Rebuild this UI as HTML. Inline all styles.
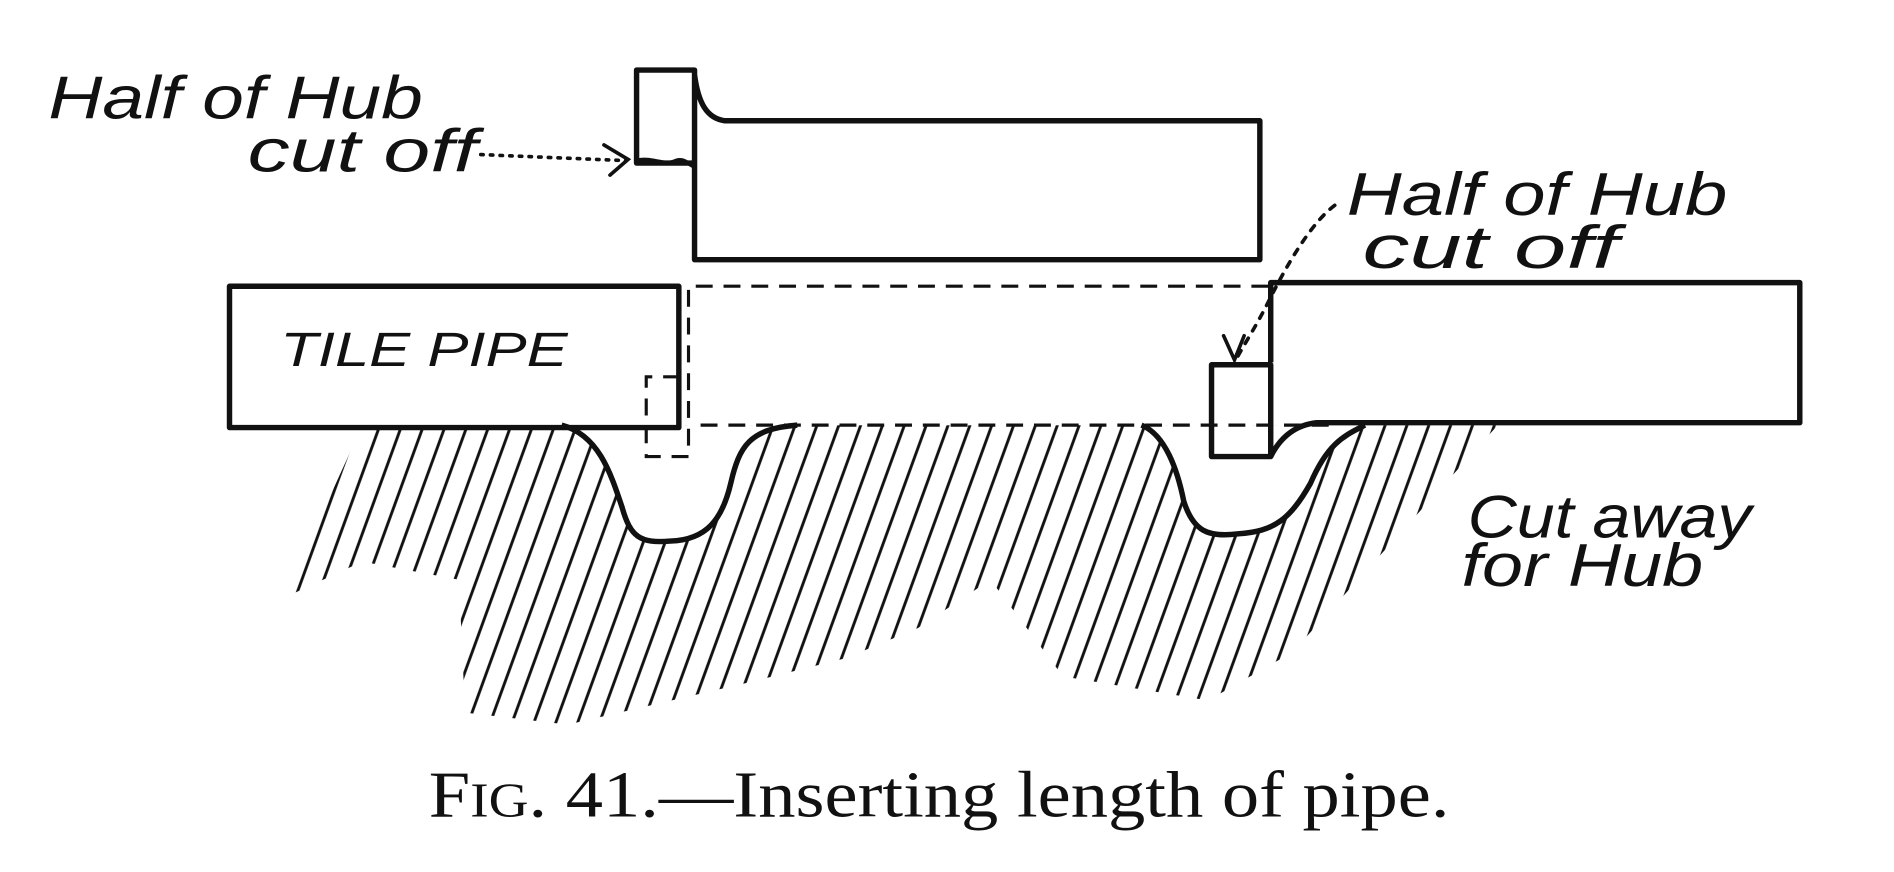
<!DOCTYPE html>
<html><head><meta charset="utf-8"><style>
html,body{margin:0;padding:0;background:#fff;}
svg{display:block;}
.h{font-family:"Liberation Sans",sans-serif;font-style:italic;font-size:50px;fill:#111;}
</style></head><body>
<svg width="1894" height="872" viewBox="0 0 1568 722" preserveAspectRatio="none" xmlns="http://www.w3.org/2000/svg">
<defs>
<pattern id="hat" width="17" height="17" patternUnits="userSpaceOnUse" patternTransform="rotate(20)">
<line x1="8" y1="0" x2="8" y2="17" stroke="#111" stroke-width="2.4"/>
</pattern>
<clipPath id="gc"><polygon points="300,352 1240,352 1070,540 1000,580 880,560 820,480 760,520 700,545 620,565 470,600 385,590 380,480 300,465 235,495"/></clipPath>
</defs>
<rect width="1568" height="722" fill="#fff"/>
<rect x="200" y="352" width="1100" height="260" fill="url(#hat)" clip-path="url(#gc)"/>
<path d="M465,352 C495,360 505,390 515,420 C522,445 530,450 555,448 C585,447 598,430 605,400 C612,370 620,355 660,352 Z" fill="#fff"/>
<path d="M945,352 C965,360 975,390 980,415 C988,440 1000,445 1025,442 C1055,440 1068,430 1085,400 C1100,365 1115,360 1130,352 Z" fill="#fff"/>
<g fill="none" stroke="#111" stroke-width="4.5" stroke-linejoin="round">
<path d="M465,352 C495,360 505,390 515,420 C522,445 530,450 555,448 C585,447 598,430 605,400 C612,370 620,355 660,352"/>
<path d="M945,352 C965,360 975,390 980,415 C988,440 1000,445 1025,442 C1055,440 1068,430 1085,400 C1100,365 1115,360 1130,352"/>
<path d="M575,135 L527,135 L527,58 L575,58 L575,215 L1043,215 L1043,100 L600,100 C585,98 578,85 575,62"/>
<path d="M527,133 C540,130 550,138 560,133 C566,131 570,136 575,138" stroke-width="3.5"/>
<rect x="190" y="237" width="372" height="117"/>
<path d="M1052,300 L1052,234 L1490,234 L1490,350 L1090,350 C1072,352 1060,362 1052,378"/>
<rect x="1003" y="302" width="49" height="76"/>
</g>
<g fill="none" stroke="#111" stroke-width="2.6" stroke-dasharray="14,9">
<path d="M1050,237 L570,237 L570,378 L535,378 L535,312 L560,312"/>
<path d="M580,352 L1100,352"/>
</g>
<g fill="none" stroke="#111" stroke-width="3" stroke-linecap="round">
<path d="M398,128 L518,133" stroke-dasharray="2,6"/>
<path d="M500,120 L520,132 L505,145"/>
<path d="M1105,170 C1085,185 1065,220 1050,250 C1040,270 1030,285 1022,300" stroke-dasharray="5,7"/>
<path d="M1013,278 L1022,298 L1030,278"/>
</g>
<text class="h" x="40" y="98" textLength="310" lengthAdjust="spacingAndGlyphs">Half of Hub</text>
<text class="h" x="205" y="142" textLength="190" lengthAdjust="spacingAndGlyphs">cut  off</text>
<text class="h" x="1115" y="178" textLength="315" lengthAdjust="spacingAndGlyphs">Half of Hub</text>
<text class="h" x="1128" y="222" textLength="212" lengthAdjust="spacingAndGlyphs">cut off</text>
<text class="h" x="232" y="303" style="font-size:40px" textLength="238" lengthAdjust="spacingAndGlyphs">TILE PIPE</text>
<text class="h" x="1215" y="445" textLength="235" lengthAdjust="spacingAndGlyphs">Cut away</text>
<text class="h" x="1210" y="485" textLength="200" lengthAdjust="spacingAndGlyphs">for Hub</text>
<text x="355" y="676" textLength="845" lengthAdjust="spacingAndGlyphs" style="font-family:'Liberation Serif',serif;font-size:54px;fill:#111">F<tspan font-size="40">IG</tspan>. 41.—Inserting length of pipe.</text>
</svg>
</body></html>
